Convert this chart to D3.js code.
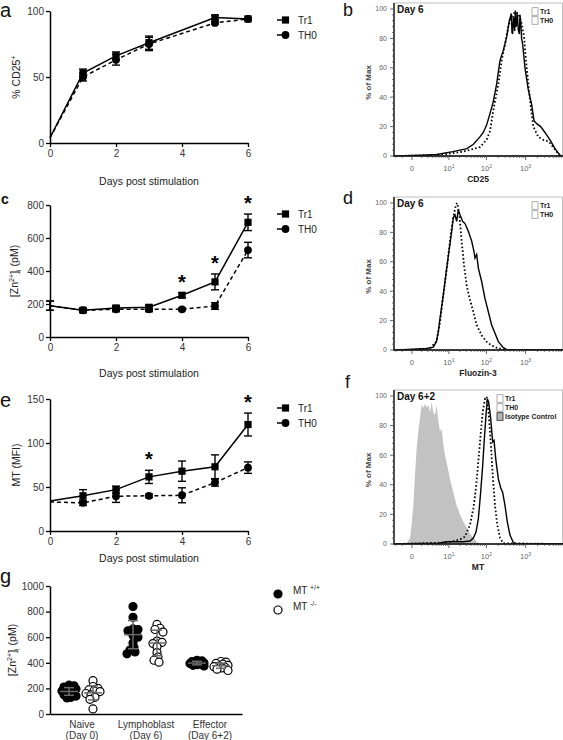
<!DOCTYPE html>
<html><head><meta charset="utf-8">
<script src="https://cdn.jsdelivr.net/npm/d3@7"></script>
<style>
html,body{margin:0;padding:0;background:#fff;}
svg{display:block;font-family:"Liberation Sans",Arial,Helvetica,sans-serif;}
</style></head><body>
<svg id="fig" width="563" height="740"></svg>
<script>
// ---------------- DATA ----------------
const seriesLabels = ["Tr1", "TH0"];
const dayTicks = [0, 2, 4, 6];

// panel a : % CD25+
const cd25Days = [0, 1, 2, 3, 5, 6];
const cd25Tr1 = [4, 53, 66, 76, 95, 94];
const cd25Tr1Err = [0, 3, 3, 5, 1.5, 1];
const cd25Th0 = [4, 50, 63, 75, 91, 94];
const cd25Th0Err = [0, 3, 4, 5, 1, 1];
const cd25Ticks = [0, 50, 100];

// panel c : [Zn2+]i (pM)
const znDays = [0, 1, 2, 3, 4, 5, 6];
const znTr1 = [190, 162, 176, 180, 253, 334, 695];
const znTr1Err = [28, 12, 14, 14, 15, 48, 50];
const znTh0 = [190, 162, 168, 168, 168, 188, 527];
const znTh0Err = [28, 12, 15, 15, 8, 20, 47];
const znSigDays = [4, 5, 6];
const znTicks = [0, 200, 400, 600, 800];

// panel e : MT (MFI)
const mtDays = [0, 1, 2, 3, 4, 5, 6];
const mtTr1 = [34, 40, 47, 61.5, 68, 73, 121];
const mtTr1Err = [0, 7, 4, 7.5, 11.5, 13.5, 13];
const mtTh0 = [33, 32, 39.5, 40, 40.6, 55, 72];
const mtTh0Err = [0, 3, 7, 2, 8.5, 4, 6.5];
const mtSigDays = [3, 6];
const mtTicks = [0, 50, 100, 150];

// flow histograms : [fluorescence, % of max]
const cd25HistTr1 = [[-2,0],[1,0.5],[4.2,1],[13,3],[31,5],[46,8],[68,13],[83,16],[101,21],[124,29],[150,37],[183,49],[223,65],[271,72],[330,81],[385,92],[433,97],[450,84],[469,83],[490,95],[506,92],[530,85],[547,99],[580,88],[615,97],[650,86],[692,83],[720,96],[748,92],[790,80],[841,76],[964,60],[1171,45],[1425,35],[1632,24],[1907,22],[2410,20],[3104,16],[4159,11],[5573,5],[6768,2],[7764,0],[8800,0]];
const cd25HistTh0 = [[-2,0],[4.2,0.5],[25,3],[68,6],[101,11],[124,17],[150,31],[202,49],[246,65],[299,76],[363,88],[443,95],[537,98],[653,97],[794,90],[910,81],[1063,60],[1293,38],[1570,20],[2104,13],[2818,11],[3776,10],[5054,6],[6141,3],[7180,0],[8800,0]];
const fluoHistTr1 = [[-2,0],[0.11,0.5],[1.78,1],[3.25,2],[4.2,6],[4.79,12.5],[5.42,21.6],[6.86,37.5],[8.62,55.7],[10.3,69],[12.0,80.7],[13.3,90],[14.8,92],[16.5,87.5],[18.3,95.5],[20.3,92],[23.9,87.5],[27.7,86],[33.9,80.7],[41.5,74],[47.7,67],[50.7,62.5],[56,65],[61.9,55.7],[75.4,46.6],[91.9,35],[112,26],[136,17],[166,11.4],[202,5.7],[271,1.6],[330,0.2],[500,0],[8800,0]];
const fluoHistTh0 = [[-2,0],[0.11,0.2],[2.45,1],[4.2,6],[5.42,19],[6.86,37.5],[9.0,58],[11.2,78],[13.3,90],[15.8,99],[17.2,100],[19.5,92],[22.5,74],[26,58],[30.6,44],[37.5,34],[45.9,26],[56,17],[75.4,10],[101,5.7],[136,3],[183,1.6],[271,0.2],[400,0],[8800,0]];
const mtHistIso = [[-0.47,0],[-0.15,4],[-0.02,13],[0.11,26],[0.26,47],[0.42,65],[0.59,76],[0.79,85],[1.0,94],[1.24,92],[1.5,95],[1.78,92],[2.1,94],[2.45,89],[2.83,96],[3.25,89],[3.71,87],[4.2,94],[4.79,83],[5.42,76],[6.11,78],[6.86,67],[7.7,60],[9.0,53],[10.75,44],[13.3,35],[16.5,26],[20.3,20],[25,15],[30.6,11],[37.5,7],[45.9,4],[56,1.6],[68,0]];
const mtHistTr1 = [[-2,0],[5,0.5],[8.6,1.5],[16.5,1.5],[25,1.5],[37.5,2],[45.9,4],[53.8,8],[61.9,17],[71,35],[80.1,53],[88.4,71],[97.5,87],[105.6,98],[114,96],[128.6,85],[144.7,69],[156.5,70],[176,56],[202,44],[231.5,38],[260,35],[299,26],[342,15],[400,6],[487,1],[592,0],[8800,0]];
const mtHistTh0 = [[-2,0],[8.6,1],[20.3,3],[27.7,5],[37.5,13],[45.9,24],[53.8,38],[61.9,56],[71,74],[80.1,89],[91.9,98],[101.4,99.5],[114,89],[128.6,69],[144.7,47],[166,26],[190,13],[223,4],[271,0.5],[8800,0]];
const flowPctTicks = [0, 20, 40, 60, 80, 100];
const flowDecadeTicks = [0, 10, 100, 1000];
const flowDecadeLabels = [["0", ""], ["10", "1"], ["10", "2"], ["10", "3"]];
const flowMinorTicks = [-2,-1,1,2,3,4,5,6,7,8,9,20,30,40,50,60,70,80,90,200,300,400,500,600,700,800,900,2000,3000,4000,5000,6000,7000,8000];

// panel g : [Zn2+]i by genotype
const groupLabels = [["Naive", "(Day 0)"], ["Lymphoblast", "(Day 6)"], ["Effector", "(Day 6+2)"]];
const genotypeLabels = ["+/+", "-/-"];
const znWT = [
  [225, 220, 210, 200, 195, 190, 180, 170, 160, 150, 140, 130, 125],
  [840, 755, 665, 660, 650, 615, 600, 555, 520, 500, 485, 470],
  [420, 415, 410, 405, 400, 398, 395, 390, 385, 380, 375]
];
const znKO = [
  [260, 215, 200, 190, 180, 175, 160, 150, 130, 115, 40],
  [700, 670, 660, 640, 570, 560, 550, 525, 480, 445, 420, 405],
  [410, 405, 395, 390, 380, 375, 370, 365, 360, 350, 340]
];
const znWTMean = [176, 620, 398], znWTSD = [30, 110, 14];
const znKOMean = [165, 555, 377], znKOSD = [55, 100, 20];
const gTicks = [0, 200, 400, 600, 800, 1000];

// ---------------- DRAWING ----------------
const FONT = '"Liberation Sans", Arial, Helvetica, sans-serif';
const svg = d3.select("#fig");
const intFmt = d3.format("d");

function rich(t, parts, size) {
  let cur = 0;
  parts.forEach(p => {
    const k = p[1] || "";
    const tgt = k === "sup" ? -size * 0.4 : (k === "sub" ? size * 0.25 : 0);
    t.append("tspan").attr("dy", (tgt - cur).toFixed(2))
      .attr("font-size", k ? size * 0.68 : size).text(p[0]);
    cur = tgt;
  });
  return t;
}
function letter(txt, x, y, size, weight) {
  svg.append("text").attr("x", x).attr("y", y).attr("font-size", size)
    .attr("font-weight", weight || "normal").attr("fill", "#111").text(txt);
}
function styleAxis(sel) {
  sel.attr("font-family", FONT);
  sel.select(".domain").attr("stroke", "#000").attr("stroke-width", 1.5);
  sel.selectAll(".tick line").attr("stroke", "#000").attr("stroke-width", 1.3);
  sel.selectAll(".tick text").attr("fill", "#333").attr("font-size", 10);
}
function marker(g, type, cx, cy) {
  if (type === "square") {
    g.append("rect").attr("x", cx - 3.6).attr("y", cy - 3.6).attr("width", 7.2).attr("height", 7.2).attr("fill", "#000");
  } else {
    g.append("circle").attr("cx", cx).attr("cy", cy).attr("r", 3.9).attr("fill", "#000");
  }
}

function linePanel(o) {
  const x = d3.scaleLinear().domain([0, 6]).range([50, 248]);
  const y = d3.scaleLinear().domain([0, o.ymax]).range([o.y0, o.yTop]);
  const g = svg.append("g");
  const gx = g.append("g").attr("transform", `translate(0,${o.y0})`)
    .call(d3.axisBottom(x).tickValues(dayTicks).tickFormat(intFmt).tickSize(4).tickSizeOuter(0).tickPadding(3));
  const gy = g.append("g").attr("transform", "translate(50,0)")
    .call(d3.axisLeft(y).tickValues(o.yTicks).tickFormat(intFmt).tickSize(4).tickSizeOuter(0).tickPadding(2));
  styleAxis(gx); styleAxis(gy);
  const line = d3.line().x(p => x(p.d)).y(p => y(p.v));
  o.series.forEach(s => {
    s.pts = o.days.map((d, i) => ({ d, v: s.vals[i], e: s.err[i] }));
    g.append("path").datum(s.pts).attr("d", line).attr("fill", "none")
      .attr("stroke", "#000").attr("stroke-width", 1.5).attr("stroke-dasharray", s.dash || null);
  });
  o.series.forEach(s => {
    s.pts.filter(p => p.e > 0).forEach(p => {
      const cx = x(p.d), y1 = y(p.v + p.e), y2 = y(p.v - p.e);
      g.append("line").attr("x1", cx).attr("x2", cx).attr("y1", y1).attr("y2", y2).attr("stroke", "#000").attr("stroke-width", 1.4);
      [y1, y2].forEach(yy => g.append("line").attr("x1", cx - 4).attr("x2", cx + 4).attr("y1", yy).attr("y2", yy).attr("stroke", "#000").attr("stroke-width", 1.4));
    });
  });
  o.series.forEach(s => s.pts.filter(p => p.d > 0).forEach(p => marker(g, s.marker, x(p.d), y(p.v))));
  const tr1 = o.series[0];
  (o.sigDays || []).forEach(d => {
    const i = o.days.indexOf(d);
    g.append("text").attr("x", x(d)).attr("y", y(tr1.vals[i] + tr1.err[i]) - 4)
      .attr("text-anchor", "middle").attr("font-size", 20).attr("font-weight", "bold").text("*");
  });
  seriesLabels.forEach((lab, i) => {
    const ly = o.yTop + (i === 0 ? 9 : 24);
    g.append("line").attr("x1", 277).attr("x2", 285).attr("y1", ly).attr("y2", ly).attr("stroke", "#000").attr("stroke-width", 1.5);
    marker(g, o.series[i].marker, 285.5, ly);
    g.append("text").attr("x", 298).attr("y", ly).attr("dy", "0.35em").attr("font-size", 10).attr("fill", "#222").text(lab);
  });
  g.append("text").attr("x", 149).attr("y", o.titleY).attr("dy", "0.35em").attr("text-anchor", "middle")
    .attr("font-size", 10.5).attr("fill", "#222").text("Days post stimulation");
  const yl = g.append("text").attr("transform", `translate(${o.ylabX},${(o.y0 + o.yTop) / 2}) rotate(-90)`)
    .attr("text-anchor", "middle").attr("font-size", 10.5).attr("fill", "#222");
  rich(yl, o.ylabel, 10.5);
}

function flowPanel(o) {
  const x = d3.scaleSymlog().constant(1.3).domain([-2.4, 8900]).range([394, 563]);
  const y = d3.scaleLinear().domain([0, 100]).range([o.y0, o.y100]);
  const g = svg.append("g");
  const top = o.y100 - 6;
  const cid = "clip" + o.id;
  g.append("clipPath").attr("id", cid).append("rect").attr("x", 394).attr("y", top).attr("width", 169).attr("height", o.y0 - top);
  const plot = g.append("g").attr("clip-path", `url(#${cid})`);
  const line = d3.line().x(d => x(d[0])).y(d => y(d[1]));
  if (o.iso) plot.append("path").datum(o.iso)
    .attr("d", d3.area().x(d => x(d[0])).y0(y(0)).y1(d => y(d[1]))).attr("fill", "#c2c2c2");
  plot.append("path").datum(o.th0).attr("d", line).attr("fill", "none").attr("stroke", "#000")
    .attr("stroke-width", 1.8).attr("stroke-dasharray", "1.6,2.2");
  plot.append("path").datum(o.tr1).attr("d", line).attr("fill", "none").attr("stroke", "#000").attr("stroke-width", 1.4);
  // frame
  g.append("rect").attr("x", 394).attr("y", top).attr("width", 168.5).attr("height", o.y0 - top)
    .attr("fill", "none").attr("stroke", "#b0b0b0").attr("stroke-width", 0.8);
  g.append("line").attr("x1", 394).attr("x2", 394).attr("y1", top).attr("y2", o.y0 + 0.5).attr("stroke", "#000").attr("stroke-width", 1.3);
  g.append("line").attr("x1", 393.5).attr("x2", 563).attr("y1", o.y0).attr("y2", o.y0).attr("stroke", "#000").attr("stroke-width", 1.3);
  // y ticks
  d3.range(0, 101, 4).forEach(v => {
    if (v % 20 !== 0) g.append("line").attr("x1", 392).attr("x2", 394).attr("y1", y(v)).attr("y2", y(v)).attr("stroke", "#444").attr("stroke-width", 0.7);
  });
  flowPctTicks.forEach(v => {
    g.append("line").attr("x1", 390).attr("x2", 394).attr("y1", y(v)).attr("y2", y(v)).attr("stroke", "#444").attr("stroke-width", 0.8);
    g.append("text").attr("x", 387).attr("y", y(v)).attr("dy", "0.35em").attr("text-anchor", "end")
      .attr("font-size", 7).attr("fill", "#666").text(v);
  });
  // x ticks
  flowMinorTicks.forEach(v => g.append("line").attr("x1", x(v)).attr("x2", x(v)).attr("y1", o.y0).attr("y2", o.y0 + 2).attr("stroke", "#444").attr("stroke-width", 0.7));
  flowDecadeTicks.forEach((v, i) => {
    g.append("line").attr("x1", x(v)).attr("x2", x(v)).attr("y1", o.y0).attr("y2", o.y0 + 4).attr("stroke", "#444").attr("stroke-width", 0.8);
    const t = g.append("text").attr("x", x(v)).attr("y", o.y0 + 15).attr("text-anchor", "middle").attr("fill", "#666");
    const lab = flowDecadeLabels[i];
    rich(t, lab[1] ? [[lab[0]], [lab[1], "sup"]] : [[lab[0]]], 7.5);
  });
  g.append("text").attr("x", 478).attr("y", o.y0 + 26).attr("text-anchor", "middle").attr("font-size", 8.5)
    .attr("font-weight", "bold").attr("fill", "#222").text(o.xlabel);
  g.append("text").attr("transform", `translate(368,${(o.y0 + o.y100) / 2}) rotate(-90)`).attr("dy", "0.35em")
    .attr("text-anchor", "middle").attr("font-size", 8).attr("font-weight", "bold").attr("fill", "#444").text("% of Max");
  g.append("text").attr("x", 397).attr("y", o.y100 + 4).attr("font-size", 10).attr("font-weight", "bold").attr("fill", "#111").text(o.day);
  // legend
  o.legend.forEach((lab, i) => {
    const ly = o.y100 + 2.5 + 9 * i;
    const iso = lab === "Isotype Control";
    g.append("rect").attr("x", o.legX).attr("y", ly - 3.8).attr("width", 6).attr("height", 7.6)
      .attr("fill", iso ? "#b5b5b5" : "#fff").attr("stroke", iso ? "#222" : "#999").attr("stroke-width", 0.8);
    g.append("text").attr("x", o.legX + 8).attr("y", ly).attr("dy", "0.35em").attr("font-size", 7)
      .attr("font-weight", "bold").attr("fill", "#222").text(lab);
  });
}

function scatterPanel() {
  const x = d3.scaleBand().domain(groupLabels.map(d => d[0])).range([50, 242]);
  const y = d3.scaleLinear().domain([0, 1000]).range([714, 586]);
  const g = svg.append("g");
  const gx = g.append("g").attr("transform", "translate(0,714)")
    .call(d3.axisBottom(x).tickSize(0).tickSizeOuter(0).tickFormat(""));
  const gy = g.append("g").attr("transform", "translate(50,0)")
    .call(d3.axisLeft(y).tickValues(gTicks).tickFormat(intFmt).tickSize(4).tickSizeOuter(0).tickPadding(2));
  styleAxis(gx); styleAxis(gy);
  const offs = [-13, 11];
  const r = 4;
  function dodge(vals, cx) {
    const pts = vals.map(v => ({ v, y: y(v) })).sort((a, b) => a.y - b.y);
    const placed = [];
    pts.forEach(p => {
      let best = 0, bestD = -1;
      for (let k = 0; k <= 14; k++) {
        const off = (k % 2 ? 1 : -1) * Math.ceil(k / 2);
        let md = Infinity;
        placed.forEach(q => { md = Math.min(md, Math.hypot(off - q.off, p.y - q.y)); });
        if (md >= 4.5) { best = off; bestD = md; break; }
        if (md > bestD) { bestD = md; best = off; }
      }
      p.off = best; p.cx = cx + best; placed.push(p);
    });
    return pts;
  }
  [[znWT, znWTMean, znWTSD, true], [znKO, znKOMean, znKOSD, false]].forEach((ser, si) => {
    ser[0].forEach((vals, gi) => {
      const cx = x(groupLabels[gi][0]) + x.bandwidth() / 2 + offs[si];
      dodge(vals, cx).forEach(p => {
        g.append("circle").attr("cx", p.cx).attr("cy", p.y).attr("r", r)
          .attr("fill", ser[3] ? "#000" : "#fff").attr("stroke", "#000").attr("stroke-width", 1.2);
      });
      const m = ser[1][gi], sd = ser[2][gi];
      const col = "#6a6a6a";
      g.append("line").attr("x1", cx).attr("x2", cx).attr("y1", y(m + sd)).attr("y2", y(m - sd)).attr("stroke", col).attr("stroke-width", 1.5);
      g.append("line").attr("x1", cx - 9).attr("x2", cx + 9).attr("y1", y(m)).attr("y2", y(m)).attr("stroke", col).attr("stroke-width", 1.5);
      [m + sd, m - sd].forEach(v => g.append("line").attr("x1", cx - 5).attr("x2", cx + 5).attr("y1", y(v)).attr("y2", y(v)).attr("stroke", col).attr("stroke-width", 1.5));
    });
  });
  groupLabels.forEach(gl => {
    const cx = x(gl[0]) + x.bandwidth() / 2;
    g.append("text").attr("x", cx).attr("y", 728).attr("text-anchor", "middle").attr("font-size", 10).attr("fill", "#333").text(gl[0]);
    g.append("text").attr("x", cx).attr("y", 739).attr("text-anchor", "middle").attr("font-size", 10).attr("fill", "#333").text(gl[1]);
  });
  const yl = g.append("text").attr("transform", "translate(16,650) rotate(-90)").attr("text-anchor", "middle")
    .attr("font-size", 10.5).attr("fill", "#222");
  rich(yl, [["[Zn"], ["2+", "sup"], ["]"], ["i", "sub"], [" (pM)"]], 10.5);
  genotypeLabels.forEach((lab, i) => {
    const ly = 594 + 16 * i;
    g.append("circle").attr("cx", 278).attr("cy", ly).attr("r", 4).attr("fill", i === 0 ? "#000" : "#fff").attr("stroke", "#000").attr("stroke-width", 1.2);
    const t = g.append("text").attr("x", 293).attr("y", ly).attr("dy", "0.35em").attr("fill", "#222");
    rich(t, [["MT "], [lab, "sup"]], 10);
  });
}

// ---- left column ----
linePanel({
  days: cd25Days, ymax: 100, yTicks: cd25Ticks, y0: 143, yTop: 11, titleY: 181, ylabX: 20,
  ylabel: [["% CD25"], ["+", "sup"]],
  series: [{ vals: cd25Tr1, err: cd25Tr1Err, marker: "square" }, { vals: cd25Th0, err: cd25Th0Err, marker: "circle", dash: "4,3" }]
});
linePanel({
  days: znDays, ymax: 800, yTicks: znTicks, y0: 337, yTop: 205, titleY: 373, ylabX: 18, sigDays: znSigDays,
  ylabel: [["[Zn"], ["2+", "sup"], ["]"], ["i", "sub"], [" (pM)"]],
  series: [{ vals: znTr1, err: znTr1Err, marker: "square" }, { vals: znTh0, err: znTh0Err, marker: "circle", dash: "4,3" }]
});
linePanel({
  days: mtDays, ymax: 150, yTicks: mtTicks, y0: 531, yTop: 399, titleY: 558, ylabX: 20, sigDays: mtSigDays,
  ylabel: [["MT (MFI)"]],
  series: [{ vals: mtTr1, err: mtTr1Err, marker: "square" }, { vals: mtTh0, err: mtTh0Err, marker: "circle", dash: "4,3" }]
});
scatterPanel();

// ---- right column ----
flowPanel({ id: "b", y0: 156, y100: 9, tr1: cd25HistTr1, th0: cd25HistTh0, xlabel: "CD25", day: "Day 6", legend: ["Tr1", "TH0"], legX: 532 });
flowPanel({ id: "d", y0: 350, y100: 203, tr1: fluoHistTr1, th0: fluoHistTh0, xlabel: "Fluozin-3", day: "Day 6", legend: ["Tr1", "TH0"], legX: 532 });
flowPanel({ id: "f", y0: 544, y100: 396, tr1: mtHistTr1, th0: mtHistTh0, iso: mtHistIso, xlabel: "MT", day: "Day 6+2", legend: ["Tr1", "TH0", "Isotype Control"], legX: 497 });

// ---- panel letters ----
letter("a", 0, 17, 20);
letter("c", 1, 204, 14, "bold");
letter("e", 0, 407, 20);
letter("g", 0, 583, 20);
letter("b", 343, 16, 18);
letter("d", 343, 204, 18);
letter("f", 345, 388, 18);
</script>
</body></html>
